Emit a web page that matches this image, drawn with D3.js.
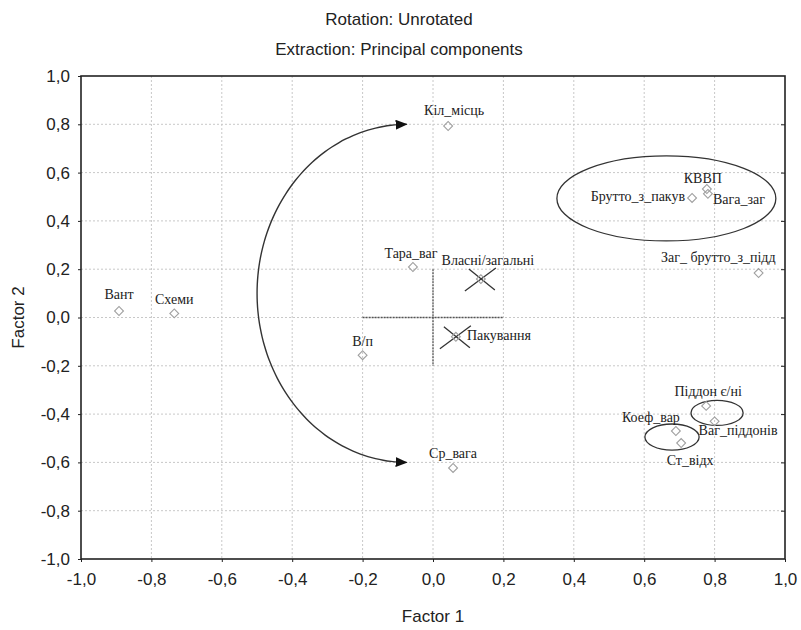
<!DOCTYPE html>
<html>
<head>
<meta charset="utf-8">
<script src="https://cdn.jsdelivr.net/npm/d3@7"></script>
<style>
  html, body { margin: 0; padding: 0; background: #fff; }
  svg { display: block; }
</style>
</head>
<body>
<svg id="chart" width="801" height="630"></svg>
<script>
// Factor loadings (principal components, unrotated)
const variables = ["Кіл_місць", "КВВП", "Брутто_з_пакув", "Вага_заг", "Заг_ брутто_з_підд",
  "Тара_ваг", "Власні/загальні", "Вант", "Схеми", "В/п", "Пакування",
  "Піддон є/ні", "Коеф_вар", "Ваг_піддонів", "Ст_відх", "Ср_вага"];
const factor1 = [0.043, 0.778, 0.736, 0.781, 0.925, -0.057, 0.136, -0.892, -0.735, -0.2, 0.065,
  0.776, 0.69, 0.80, 0.705, 0.057];
const factor2 = [0.793, 0.532, 0.495, 0.512, 0.184, 0.209, 0.159, 0.027, 0.017, -0.156, -0.08,
  -0.366, -0.47, -0.43, -0.52, -0.623];

// variables highlighted with a cross
const crossed = ["Власні/загальні", "Пакування"];

// groups circled on the plot: centre and radii in factor units
const groupCx = [0.663, 0.807, 0.679];
const groupCy = [0.493, -0.395, -0.495];
const groupRx = [0.311, 0.074, 0.077];
const groupRy = [0.176, 0.052, 0.054];

const tickValues = [-1, -0.8, -0.6, -0.4, -0.2, 0, 0.2, 0.4, 0.6, 0.8, 1];
const titleLines = ["Rotation: Unrotated", "Extraction: Principal components"];
const xTitle = "Factor 1";
const yTitle = "Factor 2";

// label placement around each marker (pixels): dx, dy, anchor
const labelLayout = {
  "Кіл_місць": [6, -11, "middle"],
  "КВВП": [-4, -6, "middle"],
  "Брутто_з_пакув": [-7, 3, "end"],
  "Вага_заг": [5, 10, "start"],
  "Заг_ брутто_з_підд": [17, -11, "end"],
  "Тара_ваг": [-2, -9, "middle"],
  "Власні/загальні": [7, -14, "middle"],
  "Вант": [0, -12, "middle"],
  "Схеми": [0, -9, "middle"],
  "В/п": [0, -9, "middle"],
  "Пакування": [11, 3, "start"],
  "Піддон є/ні": [2, -10, "middle"],
  "Коеф_вар": [4, -9, "end"],
  "Ваг_піддонів": [-16, 14, "start"],
  "Ст_відх": [9, 22, "middle"],
  "Ср_вага": [0, -10, "middle"]
};

const points = variables.map((name, i) => ({ name, f1: factor1[i], f2: factor2[i] }));

const svg = d3.select("#chart");
const plotLeft = 81, plotRight = 785, plotTop = 76, plotBottom = 559;
const x = d3.scaleLinear().domain([-1, 1]).range([plotLeft, plotRight]);
const y = d3.scaleLinear().domain([-1, 1]).range([plotBottom, plotTop]);
const fmt = d => d3.format(".1f")(d).replace(".", ",").replace("−", "-");

const sans = "'Liberation Sans', Arial, sans-serif";
const serif = "'Liberation Serif', 'Times New Roman', serif";

// titles
svg.selectAll("text.title").data(titleLines).enter().append("text")
  .attr("class", "title")
  .attr("x", 399).attr("y", (d, i) => 25 + i * 30)
  .attr("text-anchor", "middle")
  .style("font-family", sans).style("font-size", "17px").style("fill", "#222")
  .text(d => d);

// grid
const grid = svg.append("g");
grid.selectAll("line.gx").data(tickValues.slice(1, -1)).enter().append("line")
  .attr("x1", d => x(d)).attr("x2", d => x(d)).attr("y1", plotTop).attr("y2", plotBottom)
  .attr("stroke", "#c8c8c8").attr("stroke-width", 1).attr("stroke-dasharray", "2,2");
grid.selectAll("line.gy").data(tickValues.slice(1, -1)).enter().append("line")
  .attr("y1", d => y(d)).attr("y2", d => y(d)).attr("x1", plotLeft).attr("x2", plotRight)
  .attr("stroke", "#c8c8c8").attr("stroke-width", 1).attr("stroke-dasharray", "2,2");

// axes
const xAxis = d3.axisBottom(x).tickValues(tickValues).tickFormat(fmt).tickSize(3).tickPadding(11);
const yAxis = d3.axisLeft(y).tickValues(tickValues).tickFormat(fmt).tickSize(3).tickPadding(8);
const gx = svg.append("g").attr("transform", `translate(0,${plotBottom})`).call(xAxis);
const gy = svg.append("g").attr("transform", `translate(${plotLeft},0)`).call(yAxis);
const gr = svg.append("g").attr("transform", `translate(${plotRight},0)`)
  .call(d3.axisLeft(y).tickValues(tickValues.slice(1, -1)).tickFormat("").tickSize(4));
[gx, gy, gr].forEach(g => {
  g.select(".domain").remove();
  g.selectAll(".tick line").attr("stroke", "#222");
  g.selectAll("text").style("font-family", sans).style("font-size", "17px").style("fill", "#222");
});

// frame
svg.append("rect").attr("x", plotLeft).attr("y", plotTop)
  .attr("width", plotRight - plotLeft).attr("height", plotBottom - plotTop)
  .attr("fill", "none").attr("stroke", "#222").attr("stroke-width", 1.6);

// axis titles
svg.append("text").attr("x", (plotLeft + plotRight) / 2).attr("y", 622)
  .attr("text-anchor", "middle")
  .style("font-family", sans).style("font-size", "17px").style("fill", "#222")
  .text(xTitle);
svg.append("text")
  .attr("transform", `translate(24,${(plotTop + plotBottom) / 2}) rotate(-90)`)
  .attr("text-anchor", "middle")
  .style("font-family", sans).style("font-size", "17px").style("fill", "#222")
  .text(yTitle);

// origin crosshair
const cross = svg.append("g").attr("stroke", "#555").attr("stroke-width", 1.3)
  .attr("stroke-dasharray", "2,1");
cross.append("line").attr("x1", x(-0.2)).attr("x2", x(0.2)).attr("y1", y(0)).attr("y2", y(0));
cross.append("line").attr("x1", x(0)).attr("x2", x(0)).attr("y1", y(0.2)).attr("y2", y(-0.2));

// group ellipses
svg.append("g").selectAll("ellipse").data(groupCx).enter().append("ellipse")
  .attr("cx", d => x(d))
  .attr("cy", (d, i) => y(groupCy[i]))
  .attr("rx", (d, i) => x(groupRx[i]) - x(0))
  .attr("ry", (d, i) => y(0) - y(groupRy[i]))
  .attr("fill", "none").attr("stroke", "#333").attr("stroke-width", 1.3);

// curved double arrow between Кіл_місць and Ср_вага
const defs = svg.append("defs");
defs.append("marker").attr("id", "head")
  .attr("viewBox", "0 0 12 10").attr("refX", 11).attr("refY", 5)
  .attr("markerWidth", 12).attr("markerHeight", 10)
  .attr("markerUnits", "userSpaceOnUse")
  .attr("orient", "auto-start-reverse")
  .append("path").attr("d", "M0,0 L12,5 L0,10 Z").attr("fill", "#111");

const arcCx = -0.075, arcCy = 0.1, arcRx = 0.425, arcRy = 0.7;
const arcPts = d3.range(0, 181, 3).map(a => {
  const t = (90 + a) * Math.PI / 180;
  return [x(arcCx + arcRx * Math.cos(t)), y(arcCy + arcRy * Math.sin(t))];
});
svg.append("path")
  .attr("d", d3.line().curve(d3.curveBasis)(arcPts))
  .attr("fill", "none").attr("stroke", "#333").attr("stroke-width", 1.4)
  .attr("marker-start", "url(#head)").attr("marker-end", "url(#head)");

// X marks
const xs = svg.append("g").attr("stroke", "#333").attr("stroke-width", 1.3);
points.filter(p => crossed.includes(p.name)).forEach(p => {
  const cx = x(p.f1), cy = y(p.f2);
  xs.append("line").attr("x1", cx - 16).attr("y1", cy + 12).attr("x2", cx + 15).attr("y2", cy - 11);
  xs.append("line").attr("x1", cx - 12).attr("y1", cy - 10).attr("x2", cx + 14).attr("y2", cy + 11);
});

// diamond markers
const diamond = d3.symbol().type(d3.symbolSquare2).size(50);
svg.append("g").selectAll("path").data(points).enter().append("path")
  .attr("d", diamond)
  .attr("transform", d => `translate(${x(d.f1)},${y(d.f2)}) rotate(45)`)
  .attr("fill", "none").attr("stroke", "#a0a0a0").attr("stroke-width", 1.1);

// variable labels
svg.append("g").selectAll("text").data(points).enter().append("text")
  .attr("x", d => x(d.f1) + labelLayout[d.name][0])
  .attr("y", d => y(d.f2) + labelLayout[d.name][1])
  .attr("text-anchor", d => labelLayout[d.name][2])
  .style("font-family", serif).style("font-size", "14px").style("fill", "#222")
  .text(d => d.name);
</script>
</body>
</html>
